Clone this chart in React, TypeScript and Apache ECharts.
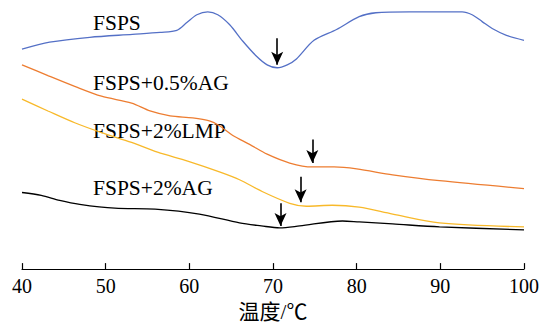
import React, { useEffect, useRef } from "react";
import * as echarts from "echarts";

const xTicks = [40, 50, 60, 70, 80, 90, 100];

const fsps: [number, number][] = [
  [40, 224], [43.3, 231], [48.1, 236], [53.2, 239], [56.5, 241], [58.5, 243],
  [59.7, 251], [60.9, 259], [62.2, 262], [63.4, 259], [64.8, 249], [66.4, 232],
  [68.0, 217], [69.3, 208], [70.5, 205], [71.7, 208], [72.8, 214], [74.9, 233],
  [77.6, 244], [80.3, 257], [82.3, 261], [86.3, 262], [92.6, 262], [93.8, 259],
  [95.0, 252], [96.2, 245], [97.9, 238], [100, 233],
];

const fsps05AG: [number, number][] = [
  [40, 208], [43.1, 197], [46.3, 186], [49.5, 176], [53.1, 169], [55.3, 161],
  [57.7, 156], [60.4, 154], [62.4, 151], [63.6, 146], [65.2, 136], [67.2, 127],
  [69.3, 117], [72.0, 108], [74.7, 104], [77.3, 104], [80.0, 102], [84.3, 96],
  [89.9, 90], [100, 82],
];

const fsps2LMP: [number, number][] = [
  [40, 173], [43.1, 161], [46.3, 149], [49.5, 139], [53.1, 129], [56.2, 119],
  [59.8, 110], [63.6, 99], [66.0, 91], [68.7, 79], [72.0, 67], [74.0, 64],
  [77.1, 65], [80.3, 63], [84.3, 56], [89.9, 47], [100, 43],
];

const fsps2AG: [number, number][] = [
  [40, 78], [42.3, 75], [44.5, 70], [46.9, 66], [51.1, 62], [55.9, 61],
  [61.2, 56], [66.0, 47], [68.6, 44], [70.8, 42], [73.2, 44], [78.3, 49],
  [80.3, 48], [84.3, 46], [89.9, 43], [100, 40],
];

// arrows: [x, yFrom, yTo]
const arrowBlue = [70.5, 235, 208];
const arrowOrange = [74.7, 132, 108];
const arrowYellow = [73.3, 94, 68];
const arrowBlack = [70.9, 67, 44];

const seriesNames = ["FSPS", "FSPS+0.5%AG", "FSPS+2%LMP", "FSPS+2%AG"];
const seriesColors = ["#5470c6", "#ed7d31", "#f8b92a", "#000000"];
const xAxisName = "温度/℃";

const FONT = "'Liberation Serif', 'Times New Roman', 'Noto Sans CJK SC', serif";

function arrowLine(a: number[]) {
  return {
    silent: true,
    symbol: ["none", "arrow"],
    symbolSize: [9, 13],
    lineStyle: { color: "#000", width: 1.6, type: "solid" },
    label: { show: false },
    data: [[{ coord: [a[0], a[1]] }, { coord: [a[0], a[2]] }]],
  };
}

export default function App() {
  const ref = useRef<HTMLDivElement>(null);
  useEffect(() => {
    if (!ref.current) return;
    const chart = echarts.init(ref.current, undefined, { renderer: "svg" });
    const datasets = [fsps, fsps05AG, fsps2LMP, fsps2AG];
    const arrows = [arrowBlue, arrowOrange, arrowYellow, arrowBlack];
    const labelY = [23, 83, 131, 188];
    chart.setOption({
      animation: false,
      backgroundColor: "#ffffff",
      grid: { left: 22, right: 17, top: 0, bottom: 53 },
      xAxis: {
        type: "value",
        min: xTicks[0],
        max: xTicks[xTicks.length - 1],
        interval: 10,
        name: xAxisName,
        nameLocation: "middle",
        nameGap: 31,
        nameTextStyle: { fontFamily: FONT, fontSize: 21, color: "#000" },
        axisLine: { show: true, lineStyle: { color: "#000", width: 1.2 } },
        axisTick: { show: true, inside: true, length: 6, lineStyle: { color: "#000", width: 1.2 } },
        axisLabel: { fontFamily: FONT, fontSize: 20, color: "#000", margin: 7 },
        splitLine: { show: false },
      },
      yAxis: {
        type: "value",
        min: 0,
        max: 274,
        show: false,
        splitLine: { show: false },
      },
      series: datasets.map((d, i) => ({
        type: "line",
        name: seriesNames[i],
        data: d,
        smooth: 0.3,
        showSymbol: false,
        symbol: "none",
        lineStyle: { color: seriesColors[i], width: 1.3 },
        markLine: arrowLine(arrows[i]),
      })),
      graphic: seriesNames.map((n, i) => ({
        type: "text",
        x: 93,
        y: labelY[i],
        style: { text: n, font: `21.5px ${FONT}`, fill: "#000", verticalAlign: "middle" },
      })),
    });
    return () => chart.dispose();
  }, []);
  return (
    <div
      ref={ref}
      style={{ position: "absolute", left: 0, top: 0, width: 542, height: 327, background: "#fff" }}
    />
  );
}
